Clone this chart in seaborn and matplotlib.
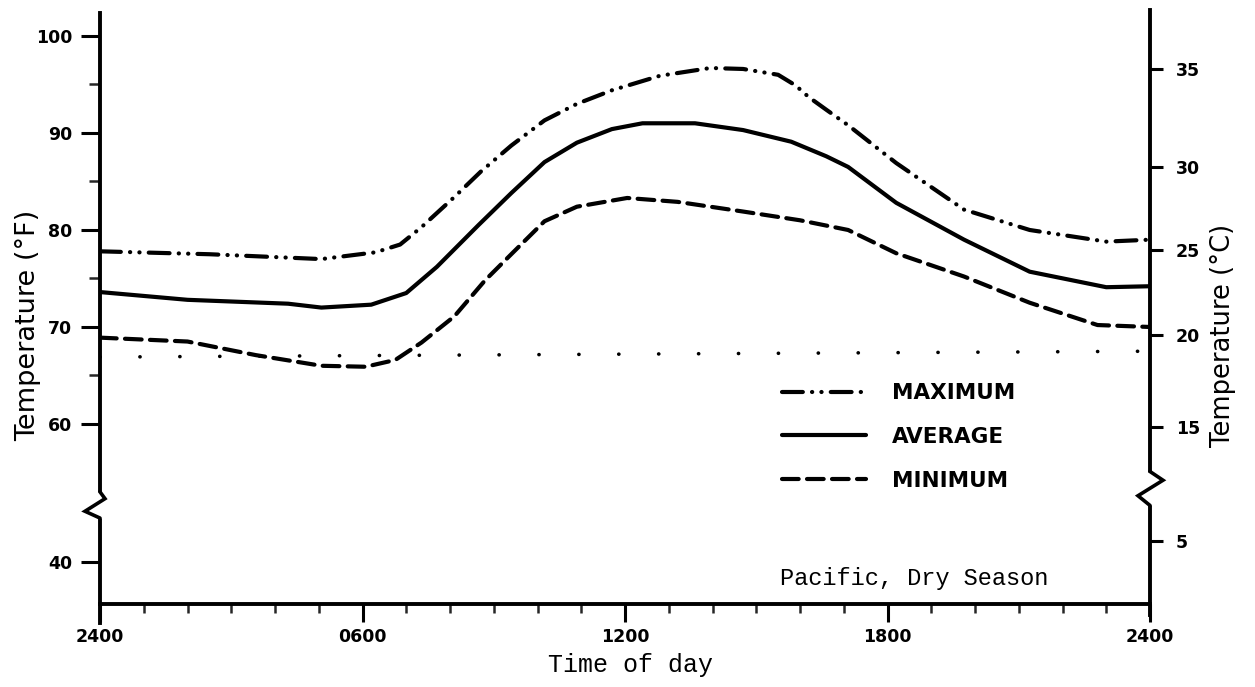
import matplotlib
matplotlib.use("Agg")
import matplotlib.pyplot as plt
import matplotlib.transforms as mtransforms
import seaborn as sns

# daily temperature curves, hours after midnight vs deg F
max_hours = [0, 2.5, 5.06, 6.3, 6.86, 7.35, 8.1, 8.7, 9.4, 10.16, 10.9, 11.7, 12.8, 13.95,
             14.7, 15.5, 15.9, 16.2, 16.6, 17.1, 18.2, 19.75, 21.25, 23.0, 24]
max_temp = [77.8, 77.5, 77.0, 77.7, 78.5, 80.3, 83.4, 86.0, 88.7, 91.3, 93.0, 94.4, 95.9, 96.7,
            96.6, 96.0, 94.9, 93.7, 92.4, 90.8, 86.9, 82.1, 80.0, 78.8, 79.0]

avg_hours = [0, 2.0, 4.3, 5.06, 6.2, 7.0, 7.7, 8.65, 9.4, 10.16, 10.9, 11.7, 12.4, 13.6,
             14.7, 15.8, 16.6, 17.1, 18.2, 19.75, 21.25, 23.0, 24]
avg_temp = [73.6, 72.8, 72.4, 72.0, 72.3, 73.5, 76.2, 80.5, 83.8, 87.0, 89.0, 90.4, 91.0, 91.0,
            90.3, 89.1, 87.6, 86.5, 82.8, 79.0, 75.7, 74.1, 74.2]

min_hours = [0, 2.0, 3.56, 5.06, 6.07, 6.75, 7.35, 8.1, 8.8, 9.4, 10.16, 10.9, 12.05,
             13.2, 14.7, 16.0, 17.1, 18.2, 19.75, 21.25, 22.8, 24]
min_temp = [68.9, 68.5, 67.1, 66.0, 65.9, 66.6, 68.4, 71.1, 74.8, 77.5, 80.9, 82.4, 83.3,
            82.9, 81.9, 81.0, 80.0, 77.6, 75.2, 72.5, 70.2, 70.0]

ref_hours = [0, 24]
ref_temp = [66.9, 67.5]

x_ticks = [0, 6, 12, 18, 24]
x_labels = ["2400", "0600", "1200", "1800", "2400"]
f_labels = ["40", "60", "70", "80", "90", "100"]
c_labels = ["5", "15", "20", "25", "30", "35"]
series_names = ["MAXIMUM", "AVERAGE", "MINIMUM"]

# broken axes: where the labels sit on the drawn (deg F) scale
f_tick_pos = [45.8, 60, 70, 80, 90, 100]
c_tick_pos = [47.9, 59.7, 69.2, 77.9, 86.5, 96.6]

sns.set_theme(style="white")
plt.rcParams["font.family"] = ["DejaVu Sans"]
plt.rcParams["text.color"] = "black"
plt.rcParams["axes.labelcolor"] = "black"

W, H = 1255, 687
fig = plt.figure(figsize=(W / 100, H / 100), dpi=100)
ax = fig.add_axes([100 / W, 1 - 604 / H, 1050 / W, 591 / H])

lw = 3
sns.lineplot(x=ref_hours, y=ref_temp, ax=ax, color="black", lw=2.6,
             linestyle=(0, (0.05, 11)), dash_capstyle="round")
sns.lineplot(x=max_hours, y=max_temp, ax=ax, color="black", lw=lw,
             linestyle=(0, (5, 2.2, 0.05, 2.2, 0.05, 2.2)), dash_capstyle="round")
sns.lineplot(x=avg_hours, y=avg_temp, ax=ax, color="black", lw=lw)
sns.lineplot(x=min_hours, y=min_temp, ax=ax, color="black", lw=lw,
             linestyle=(0, (4, 2.0)), dash_capstyle="round")

ylo, yhi = 41.44, 102.37
ax.set_xlim(0, 24)
ax.set_ylim(ylo, yhi)

for s in ["top", "right"]:
    ax.spines[s].set_visible(False)
for s in ["left", "bottom"]:
    ax.spines[s].set_color("black")
    ax.spines[s].set_linewidth(2.8)
ax.spines["left"].set_bounds(39.5, yhi)

ax.set_xticks(x_ticks)
ax.set_xticklabels(x_labels)
ax.set_xticks(range(25), minor=True)
ax.set_yticks(f_tick_pos)
ax.set_yticklabels(f_labels)
ax.set_yticks([65, 75, 85, 95], minor=True)
ax.tick_params(axis="x", which="major", direction="out", length=13, width=2.2,
               pad=4, labelsize=12.5, colors="black", bottom=True)
ax.tick_params(axis="x", which="minor", direction="out", length=6.5, width=1.8, bottom=True)
ax.tick_params(axis="y", which="major", direction="out", length=14, width=2.2,
               pad=6, labelsize=12.5, colors="black", left=True)
ax.tick_params(axis="y", which="minor", direction="out", length=8, width=1.8, left=True)
for t in ax.get_xticklabels() + ax.get_yticklabels():
    t.set_fontweight("bold")
ax.set_xlabel("")
ax.set_ylabel("")

ax2 = ax.twinx()
ax2.set_ylim(ylo, yhi)
for s in ["top", "left", "bottom"]:
    ax2.spines[s].set_visible(False)
ax2.spines["right"].set_color("black")
ax2.spines["right"].set_linewidth(2.8)
ax2.spines["right"].set_bounds(40.3, 102.7)
ax2.set_yticks(c_tick_pos)
ax2.set_yticklabels(c_labels)
ax2.tick_params(axis="y", direction="out", length=9.5, width=2.2, pad=9,
                labelsize=12.5, colors="black", right=True)
for t in ax2.get_yticklabels():
    t.set_fontweight("bold")


def zigzag(axis, xfrac, pts):
    """Axis-break zigzag; pts are (pixel offset from spine, deg F)."""
    tr = mtransforms.blended_transform_factory(axis.transAxes, axis.transData)
    ys = [p[1] for p in pts]
    axis.plot([xfrac, xfrac], [min(ys), max(ys)], color="white", lw=5,
              transform=tr, clip_on=False, zorder=10, solid_capstyle="butt")
    disp = []
    for p in pts:
        xd, yd = tr.transform((xfrac, p[1]))
        disp.append((xd + p[0], yd))
    inv = axis.transData.inverted()
    xy = [inv.transform(d) for d in disp]
    axis.plot([q[0] for q in xy], [q[1] for q in xy], color="black", lw=2.6,
              clip_on=False, zorder=11, solid_joinstyle="miter")


zigzag(ax, 0.0, [(0, 53.0), (5, 52.3), (-15, 51.0), (0, 50.3)])
zigzag(ax2, 1.0, [(0, 55.1), (13, 54.2), (-12, 52.6), (0, 51.6)])
ax.set_xlim(0, 24)
ax2.set_xlim(0, 24)

leg_lines = ax.get_lines()[1:4]
ax.legend(leg_lines, series_names, loc="center left",
          bbox_to_anchor=(782 / W, 1 - 437 / H), bbox_transform=fig.transFigure,
          frameon=False, borderpad=0, borderaxespad=0, handlelength=3.9,
          handletextpad=1.2, labelspacing=1.1,
          prop={"weight": "bold", "size": 15.5}, labelcolor="black")

fig.text(28 / W, 1 - 325 / H, "Temperature (°F)", rotation=90, ha="center",
         va="center", fontsize=19.5, color="black")
fig.text(1223 / W, 1 - 335 / H, "Temperature (°C)", rotation=90, ha="center",
         va="center", fontsize=18.5, color="black")
fig.text(630 / W, 1 - 665 / H, "Time of day", ha="center", va="center",
         fontsize=18, family=["Liberation Mono", "DejaVu Sans Mono"], color="black")
fig.text(1048 / W, 1 - 578 / H, "Pacific, Dry Season", ha="right", va="center",
         fontsize=17, family=["Liberation Mono", "DejaVu Sans Mono"], color="black")

fig.savefig("out.png", dpi=100, facecolor="white")
